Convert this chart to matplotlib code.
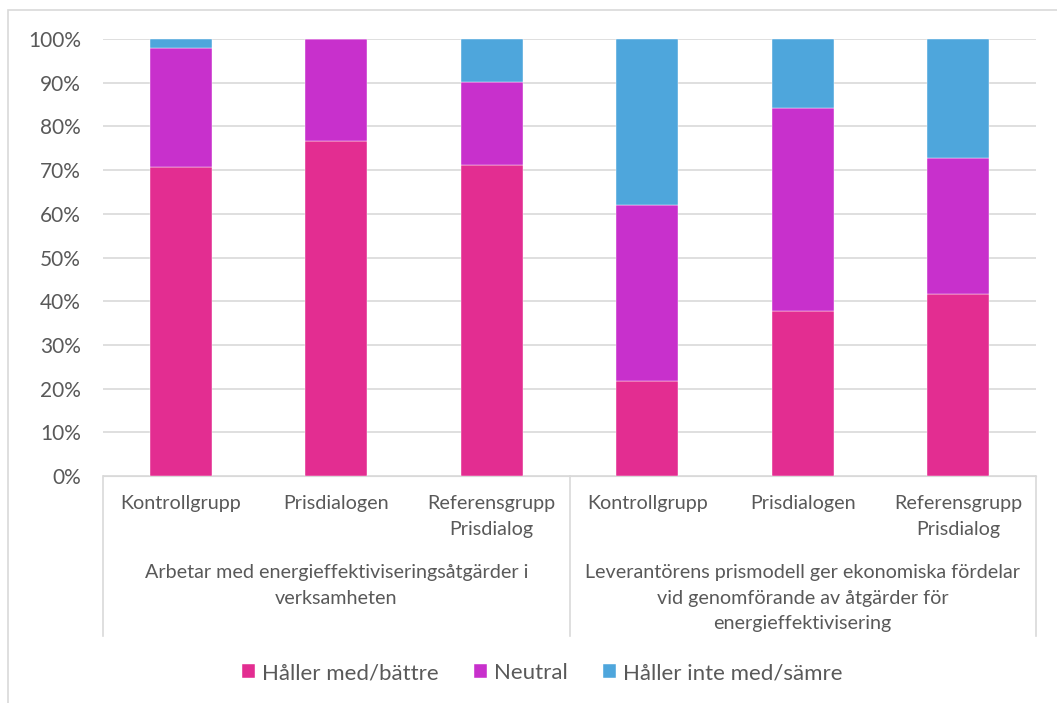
import numpy as np
import matplotlib
matplotlib.use('agg')
import matplotlib.pyplot as plt
from matplotlib.patches import Rectangle
import matplotlib.transforms as mtransforms

# kategorier och andelar (procent)
kategorier = ["Kontrollgrupp", "Prisdialogen", "Referensgrupp\nPrisdialog",
              "Kontrollgrupp", "Prisdialogen", "Referensgrupp\nPrisdialog"]
grupper = ["Arbetar med energieffektiviseringsåtgärder i\nverksamheten",
           "Leverantörens prismodell ger ekonomiska fördelar\nvid genomförande av åtgärder för\nenergieffektivisering"]
serier = ["Håller med/bättre", "Neutral", "Håller inte med/sämre"]
haller_med = [70.8, 76.6, 71.1, 21.7, 37.8, 41.6]
neutral = [27.1, 23.4, 19.1, 40.2, 46.5, 31.2]
haller_inte = [2.1, 0.0, 9.8, 38.1, 15.7, 27.2]
farger = ["#E32D91", "#C830CC", "#4EA6DC"]

plt.rcParams['font.family'] = ['Lato', 'DejaVu Sans']
textfarg = "#595959"

fig = plt.figure(figsize=(10.57, 7.03), dpi=100)
ax = fig.add_axes([103/1057, 1 - 476/703, (1036-103)/1057, (476-39)/703])

x = np.arange(len(kategorier))
botten = np.zeros(len(kategorier))
for varden, farg, namn in zip([haller_med, neutral, haller_inte], farger, serier):
    ax.bar(x, varden, 0.4, bottom=botten, color=farg, label=namn,
           edgecolor='white', linewidth=0.3, zorder=3)
    botten += np.array(varden)

ax.set_xlim(-0.5, len(kategorier) - 0.5)
ax.set_ylim(0, 100)
ax.set_yticks(np.arange(0, 101, 10))
ax.set_yticklabels([f"{v}%" for v in range(0, 101, 10)], color=textfarg, fontsize=15)
ax.yaxis.grid(True, color="#d9d9d9", linewidth=1.2, zorder=0)
ax.tick_params(axis='y', length=0, pad=16)
ax.tick_params(axis='x', length=0)
for s in ['top', 'right', 'left']:
    ax.spines[s].set_visible(False)
ax.spines['bottom'].set_color("#d9d9d9")

ax.set_xticks(x)
ax.set_xticklabels(kategorier, color=textfarg, fontsize=14.2, linespacing=1.62)
ax.tick_params(axis='x', pad=14)

# grupprubriker och avdelare under x-axeln
trans = mtransforms.blended_transform_factory(ax.transData, fig.transFigure)
for i, g in enumerate(grupper):
    ax.text(i * 3 + 1, 1 - 564/703, g, transform=trans, ha='center', va='top',
            color=textfarg, fontsize=14.2, linespacing=1.62)
for xs in [-0.5, 2.5, 5.5]:
    ax.plot([xs, xs], [1 - 476/703, 1 - 636/703], transform=trans,
            color="#d9d9d9", linewidth=1.2, clip_on=False)

# ram runt diagrammet
fig.patches.append(Rectangle((8/1057, -0.01), 1.1, 1 - 10/703 + 0.01,
                             transform=fig.transFigure, fill=False,
                             edgecolor="#d9d9d9", linewidth=1.2))

fig.legend(loc='center', bbox_to_anchor=(542/1057, 1 - 673/703), ncol=3,
           frameon=False, fontsize=16, handlelength=0.6, handleheight=0.6,
           handletextpad=0.3, columnspacing=1.6, labelcolor=textfarg)

fig.savefig("out.png", dpi=100)
